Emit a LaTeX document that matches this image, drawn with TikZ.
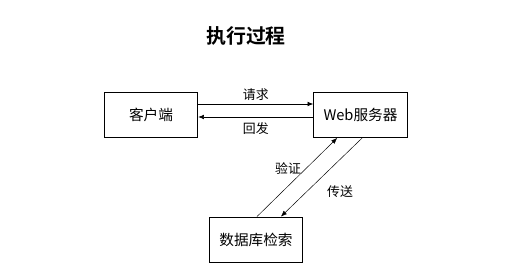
\documentclass[tikz,border=0pt]{standalone}
\usepackage{fontspec}
\setmainfont{Noto Sans CJK SC}
\newfontfamily\titlefont{Noto Sans CJK SC Bold}
\usetikzlibrary{arrows.meta,positioning,calc}

\begin{document}
\begin{tikzpicture}[
    x=0.03cm,y=-0.03cm,
    font=\fontsize{12.5}{14}\selectfont,
    box/.style={draw, line width=0.8pt, minimum width=2.8cm, minimum height=1.35cm, align=center},
    lbl/.style={font=\fontsize{11}{13}\selectfont},
    flow/.style={-{Latex[length=5pt,width=4pt]}, line width=0.6pt}
  ]
    % Hintergrund / Bounding box
    \path[use as bounding box] (0,0) rectangle (510,271);

    % Titel
    \node[font=\titlefont\fontsize{17}{19}\selectfont] (title) at (246,36) {执行过程};

    % Kaesten
    \node[box] (client) at (151,115) {客户端};
    \node[box] (web)    at (360.5,115) {Web服务器};
    \node[box] (db)     at (256,239.5) {数据库检索};

    % Client <-> Web
    \draw[flow] ([yshift=0.33cm]client.east) -- node[lbl, above=-1pt] (req) {请求} ([yshift=0.33cm]web.west);
    \draw[flow] ([yshift=-0.06cm]web.west) -- node[lbl, below=1pt] (resp) {回发} ([yshift=-0.06cm]client.east);

    % Web <-> DB
    \draw[flow, line width=0.4pt] ([xshift=0.03cm]db.north) -- ([xshift=-0.7cm]web.south);
    \draw[flow, line width=0.4pt] ([xshift=0.05cm]web.south) -- ([xshift=0.75cm]db.north);
    \node[lbl] (check) at (288,168) {验证};
    \node[lbl] (send)  at (340,192) {传送};
  \end{tikzpicture}
\end{document}
